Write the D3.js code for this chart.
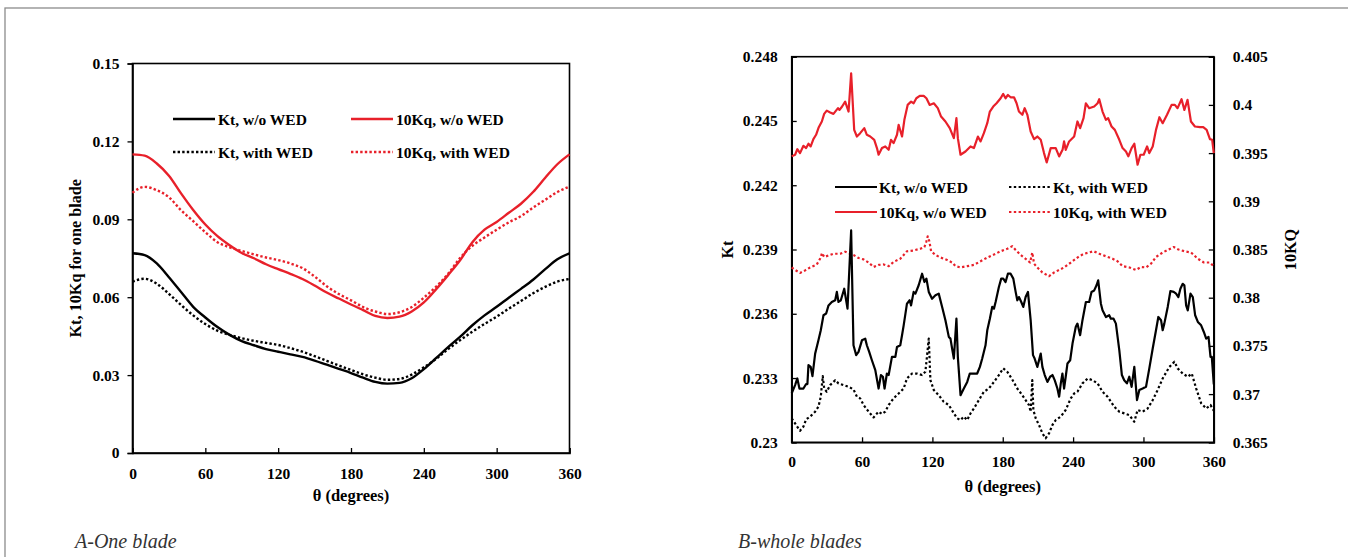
<!DOCTYPE html>
<html><head><meta charset="utf-8">
<script src="https://cdn.jsdelivr.net/npm/d3@7/dist/d3.min.js"></script>
<style>body{margin:0;background:#fff}svg{display:block}</style>
</head><body>
<svg id="c" width="1348" height="557"></svg>
<script>
// ---------- DATA: chart A (one blade) ----------
const thetaA = [0,10,20,30,40,50,60,70,80,90,100,110,120,130,140,150,160,170,180,190,200,210,220,230,240,250,260,270,280,290,300,310,320,330,340,350,360];
const ktNoWedA = [0.0769,0.0762,0.0730,0.0677,0.0620,0.0563,0.0522,0.0485,0.0455,0.0431,0.0415,0.0400,0.0390,0.0380,0.0370,0.0356,0.0340,0.0324,0.0308,0.0290,0.0274,0.0267,0.0270,0.0288,0.0323,0.0365,0.0408,0.0448,0.0492,0.0530,0.0563,0.0598,0.0632,0.0667,0.0708,0.0746,0.0769];
const ktWedA = [0.0660,0.0671,0.0652,0.0613,0.0570,0.0530,0.0497,0.0471,0.0455,0.0442,0.0432,0.0424,0.0416,0.0404,0.0390,0.0373,0.0355,0.0337,0.0320,0.0303,0.0290,0.0282,0.0285,0.0302,0.0330,0.0362,0.0400,0.0435,0.0467,0.0497,0.0525,0.0556,0.0585,0.0615,0.0640,0.0660,0.0670];
const kqNoWedA = [0.1150,0.1145,0.1115,0.1068,0.1000,0.0936,0.0880,0.0835,0.0800,0.0770,0.0750,0.0727,0.0708,0.0690,0.0670,0.0645,0.0618,0.0595,0.0572,0.0550,0.0528,0.0520,0.0525,0.0545,0.0580,0.0630,0.0685,0.0743,0.0812,0.0860,0.0890,0.0925,0.0960,0.1005,0.1060,0.1112,0.1150];
const kqWedA = [0.1002,0.1025,0.1012,0.0985,0.0935,0.0893,0.0850,0.0812,0.0792,0.0778,0.0765,0.0753,0.0743,0.0730,0.0712,0.0680,0.0642,0.0612,0.0588,0.0562,0.0545,0.0535,0.0542,0.0562,0.0598,0.0640,0.0690,0.0752,0.0798,0.0830,0.0860,0.0888,0.0912,0.0945,0.0975,0.1005,0.1026];
const xTicks = [0,60,120,180,240,300,360];
const yTicksA = [0,0.03,0.06,0.09,0.12,0.15];
const yTickLabelsA = ["0","0.03","0.06","0.09","0.12","0.15"];

// ---------- DATA: chart B (whole blades) [theta, value] ----------
const ktNoWedB = [[0,0.23228],[2.9,0.23267],[4.8,0.23298],[6.6,0.23251],[10,0.23251],[12.3,0.23272],[13.4,0.23272],[14.3,0.2336],[16.2,0.23352],[17.7,0.23309],[20,0.23414],[22.8,0.23476],[24.8,0.23523],[27.1,0.23593],[29.4,0.23601],[31.4,0.23639],[34.2,0.23655],[37.1,0.23663],[38.5,0.23702],[39.9,0.23655],[41.9,0.23663],[44.8,0.23717],[47.6,0.23624],[50.7,0.23989],[52.7,0.23453],[55,0.23407],[57,0.23422],[59.9,0.23476],[62.7,0.23484],[64.1,0.23453],[66.1,0.23422],[68.4,0.23383],[71.3,0.23337],[74.1,0.23251],[76.1,0.23314],[77.8,0.23306],[79.2,0.23251],[81.2,0.23321],[82.7,0.23314],[85.5,0.23399],[88.4,0.23399],[89.8,0.23445],[92.6,0.23453],[94.1,0.235],[95.5,0.23546],[98.3,0.23647],[100.6,0.23663],[101.8,0.23639],[104,0.23702],[105.5,0.23694],[108.3,0.23733],[111.2,0.23787],[113.2,0.23748],[114.9,0.23764],[116.9,0.23702],[119.7,0.2367],[122.6,0.23686],[125.4,0.23694],[128.3,0.23632],[131.1,0.2357],[134,0.23492],[135.4,0.23484],[136.8,0.23438],[138.3,0.23391],[140.5,0.23577],[141.7,0.23399],[144,0.2322],[146.8,0.23251],[149.7,0.23282],[151.9,0.23321],[155.4,0.23321],[158.2,0.23321],[160.5,0.23352],[162.5,0.23391],[165.3,0.23453],[166.8,0.23523],[169,0.23577],[171,0.23632],[172.5,0.23624],[173.9,0.23655],[176.7,0.23725],[178.7,0.23764],[180.4,0.23764],[182.4,0.23748],[184.4,0.23787],[186.7,0.23787],[189,0.23764],[191,0.23702],[192.4,0.23663],[193.8,0.23678],[195.8,0.23655],[197.5,0.23632],[199.5,0.23678],[201.5,0.23702],[203.8,0.2357],[205.8,0.23407],[207.2,0.23391],[209.5,0.23352],[212.4,0.23414],[213.8,0.23352],[215.8,0.23314],[218.1,0.23282],[220.4,0.23306],[222.4,0.23314],[224.3,0.2329],[226.6,0.23251],[228.1,0.23213],[229.5,0.23275],[230.9,0.23321],[232.3,0.23251],[233.7,0.23306],[235.2,0.23368],[237.5,0.23383],[239.5,0.23461],[242.3,0.23539],[243.7,0.23554],[246,0.235],[248,0.2357],[250.9,0.23655],[253.7,0.23655],[255.7,0.23702],[258,0.23709],[260,0.23733],[261.4,0.23756],[263.7,0.23647],[265.1,0.23616],[268,0.23585],[270.8,0.23593],[272.2,0.23577],[274.5,0.23577],[276.5,0.23554],[279.4,0.2343],[281.6,0.23314],[283.6,0.2329],[285.9,0.23275],[287.9,0.23306],[289.9,0.23259],[292.2,0.23352],[294.5,0.23197],[296.5,0.23244],[299.3,0.23251],[302.2,0.23259],[305,0.23345],[307.9,0.23438],[310.7,0.23523],[312.7,0.23585],[315,0.2357],[316.4,0.23523],[317.8,0.23554],[320.7,0.23632],[323,0.23706],[325.8,0.23702],[327.8,0.23694],[329.8,0.23678],[331.5,0.23717],[333.5,0.2374],[334.9,0.23733],[336.4,0.23639],[337.8,0.23616],[340.1,0.23694],[342.1,0.23678],[344.1,0.23593],[346.4,0.23562],[349.2,0.23546],[351.5,0.23515],[353.5,0.23484],[355.5,0.23492],[357.2,0.23399],[358.3,0.23399],[360,0.2327]];
const ktWedB = [[0,0.23112],[2.9,0.23088],[7.1,0.23054],[10,0.23073],[12.3,0.23107],[15.7,0.2312],[20,0.23143],[22.8,0.23166],[24.8,0.23213],[26.5,0.23309],[27.7,0.23251],[29.9,0.23236],[32.8,0.23267],[37.1,0.2329],[39.9,0.23275],[44.2,0.23267],[48.5,0.23259],[52.7,0.23247],[55.6,0.23213],[58.4,0.23205],[61.3,0.23174],[65.6,0.23143],[69.8,0.23116],[74.1,0.23143],[77,0.23132],[79.8,0.23143],[82.7,0.23174],[86.9,0.23205],[91.2,0.23228],[95.5,0.23251],[98.3,0.23298],[102.6,0.23321],[106.9,0.23321],[111.2,0.23314],[114,0.23329],[115.5,0.23407],[116.9,0.23484],[118.3,0.2329],[121.2,0.23244],[125.4,0.2322],[129.7,0.23189],[134,0.23174],[138.3,0.23135],[141.1,0.23112],[144,0.23104],[146.8,0.2312],[149.7,0.23104],[152.5,0.23135],[155.4,0.23158],[159.6,0.23197],[163.9,0.23236],[168.2,0.23251],[172.5,0.23282],[176.7,0.23314],[180.4,0.23345],[183.9,0.23329],[188.1,0.23293],[192.4,0.23251],[196.7,0.2322],[199.5,0.23197],[202.4,0.23174],[203.8,0.23143],[205.2,0.2329],[206.1,0.23151],[208.1,0.23112],[210.9,0.23081],[213.8,0.23042],[216.6,0.23019],[219.5,0.23042],[222.4,0.23081],[225.2,0.23104],[229.5,0.2312],[233.7,0.23151],[238,0.23205],[240.9,0.23228],[243.7,0.23236],[248,0.23275],[252.4,0.23298],[256.6,0.2329],[260.9,0.23275],[265.1,0.23236],[269.4,0.23213],[275.1,0.23166],[279.4,0.23143],[283.6,0.23135],[287.9,0.23127],[292.2,0.23096],[295,0.23151],[299.3,0.23143],[303.6,0.23158],[307.9,0.23197],[312.1,0.23244],[316.4,0.23298],[322.1,0.23352],[326.4,0.23376],[329.2,0.23345],[333.5,0.23321],[337.8,0.23306],[341.2,0.23321],[345,0.23251],[349.2,0.23182],[353.5,0.23158],[357.2,0.23174],[360,0.23147]];
const kqNoWedB = [[0,0.39466],[2.9,0.39483],[4.8,0.39541],[7.1,0.395],[10,0.39576],[12.3,0.39552],[14.3,0.39597],[16.2,0.39569],[18.5,0.39645],[20.8,0.3969],[23.1,0.39769],[25.7,0.39828],[27.7,0.39907],[29.9,0.39941],[32.8,0.39921],[35.6,0.39907],[39.5,0.39966],[40.8,0.39948],[43,0.39983],[45.6,0.40034],[48.5,0.39931],[50.7,0.40328],[53.3,0.39741],[55.6,0.39672],[58.4,0.39707],[61.9,0.39759],[64.1,0.3969],[67,0.39672],[70.4,0.39638],[72.7,0.39552],[74.1,0.39483],[77,0.39552],[79.8,0.39569],[82.7,0.39534],[84.7,0.39638],[86.9,0.39603],[89.8,0.3969],[91.2,0.39793],[94.1,0.39672],[96.1,0.39845],[98.9,0.4],[101.8,0.40034],[104,0.40017],[106.3,0.40069],[109.2,0.40093],[112.6,0.40093],[114.9,0.40069],[117.7,0.4],[121.2,0.40017],[124.6,0.39966],[127.4,0.39879],[131.1,0.39828],[134.8,0.39759],[138.3,0.39655],[140.5,0.39862],[141.7,0.39655],[144,0.39483],[148.2,0.39517],[152.5,0.39569],[155.4,0.39552],[158.8,0.39672],[161.1,0.39621],[163.9,0.39707],[166.8,0.3981],[169,0.39931],[171.9,0.39983],[174.7,0.40017],[178.2,0.40069],[180.4,0.40114],[182.4,0.40069],[184.4,0.40103],[186.7,0.40079],[189.6,0.40079],[191.8,0.40017],[193.8,0.39931],[196.7,0.39897],[198.7,0.39966],[201,0.39897],[203.8,0.39724],[206.7,0.39645],[209.5,0.39672],[212.4,0.39638],[215.2,0.395],[217.5,0.39403],[220.9,0.39552],[225.2,0.39552],[228.1,0.39466],[231,0.39534],[232.3,0.39621],[233.7,0.39534],[236.6,0.39621],[240.9,0.39672],[243.7,0.39828],[246,0.39759],[248.9,0.39862],[250.9,0.40017],[253.7,0.39966],[258,0.39983],[260.9,0.40017],[262.3,0.40059],[265.1,0.39931],[268,0.39845],[269.9,0.39862],[272.8,0.39776],[275.6,0.39741],[279.4,0.39638],[282.2,0.39552],[285.1,0.39517],[287.1,0.39466],[289.9,0.39552],[292.2,0.39597],[295,0.39379],[297.4,0.39483],[300.2,0.39483],[303.1,0.39569],[305,0.395],[307.9,0.39569],[310.7,0.39741],[313.6,0.39872],[316.4,0.3981],[320.1,0.39897],[324,0.4],[326.8,0.4],[329.1,0.39966],[332.5,0.40059],[334.9,0.39948],[337.6,0.40052],[340.5,0.39828],[343.9,0.39776],[348.2,0.39769],[351,0.39769],[353.9,0.39741],[356.7,0.39645],[358.6,0.39638],[360,0.395]];
const kqWedB = [[0,0.38314],[2.9,0.38288],[7.1,0.38257],[11.4,0.38283],[15.7,0.38314],[21.4,0.38345],[24.2,0.38404],[25.9,0.38464],[27.7,0.38422],[31.4,0.38438],[35.6,0.38456],[41.3,0.38456],[45.6,0.38477],[49.9,0.38456],[52.7,0.38443],[57,0.38412],[61.3,0.38397],[65.6,0.38365],[69.8,0.38319],[74.1,0.3834],[78.4,0.38345],[82.7,0.38327],[86.9,0.38371],[92.6,0.38404],[98.3,0.38482],[104,0.3849],[109.7,0.38508],[113.2,0.38526],[114.9,0.38585],[116,0.38637],[117.4,0.38585],[118.9,0.38482],[122.6,0.38443],[126.9,0.38417],[132.6,0.38391],[136.8,0.38365],[139.7,0.38327],[144,0.38314],[149.7,0.38327],[155.4,0.3834],[161.1,0.38378],[166.8,0.38417],[172.5,0.38448],[178.2,0.38482],[183.9,0.38508],[188.1,0.38534],[191,0.38495],[195.3,0.38443],[199.5,0.38404],[203.3,0.38365],[205.2,0.38469],[206.7,0.38353],[209.5,0.38314],[213.8,0.38262],[219.5,0.38223],[223.8,0.38262],[228.1,0.38288],[232.3,0.38314],[238,0.38365],[242.3,0.38404],[245.2,0.3843],[249.4,0.38456],[253.7,0.38469],[257.4,0.38482],[262.3,0.38456],[268,0.3843],[273.7,0.38404],[277.9,0.38378],[282.2,0.38327],[287.9,0.38314],[293.6,0.38288],[297.9,0.38319],[302.2,0.38314],[306.5,0.38353],[310.7,0.38422],[316.4,0.38469],[320.7,0.38495],[325.8,0.38526],[329.8,0.385],[334.9,0.38482],[340.6,0.38469],[346.4,0.38404],[351.5,0.38365],[356.3,0.38365],[360,0.38327]];
const yTicksBL = [0.23,0.233,0.236,0.239,0.242,0.245,0.248];
const yTickLabelsBL = ["0.23","0.233","0.236","0.239","0.242","0.245","0.248"];
const yTicksBR = [0.365,0.37,0.375,0.38,0.385,0.39,0.395,0.4,0.405];
const yTickLabelsBR = ["0.365","0.37","0.375","0.38","0.385","0.39","0.395","0.4","0.405"];

// ---------- DRAWING ----------
const FONT = "'Liberation Serif','Times New Roman',serif";
const RED = "#e8202a";
const svg = d3.select('#c');

svg.append('rect').attr('x',5).attr('y',8).attr('width',1500).attr('height',700)
  .attr('fill','none').attr('stroke','#8c8c8c').attr('stroke-width',1.3);

function styleAxis(g, fs){
  g.select('.domain').attr('stroke','#000').attr('stroke-width',1.6);
  g.selectAll('.tick line').attr('stroke','#000').attr('stroke-width',1.3);
  g.selectAll('.tick text').attr('font-family',FONT).attr('font-weight','bold')
    .attr('font-size',fs).attr('fill','#000');
}

// ===== Chart A =====
const A = {l:132.5, r:569.5, t:63.5, b:453};
const xA = d3.scaleLinear().domain([0,360]).range([A.l,A.r]);
const yA = d3.scaleLinear().domain([0,0.15]).range([A.b,A.t]);
const gA = svg.append('g');
gA.append('rect').attr('x',A.l).attr('y',A.t).attr('width',A.r-A.l).attr('height',A.b-A.t)
  .attr('fill','none').attr('stroke','#000').attr('stroke-width',1.6);
gA.append('g').attr('transform',`translate(0,${A.b})`)
  .call(d3.axisBottom(xA).tickValues(xTicks).tickSize(-5).tickPadding(15).tickFormat(d3.format('d')))
  .call(g=>styleAxis(g,15.5));
gA.append('g').attr('transform',`translate(${A.l},0)`)
  .call(d3.axisLeft(yA).tickValues(yTicksA).tickSize(5).tickPadding(8).tickFormat((d,i)=>yTickLabelsA[i]))
  .call(g=>styleAxis(g,15.5));

const lineA = vals => d3.line().curve(d3.curveMonotoneX).x((d,i)=>xA(thetaA[i])).y(d=>yA(d))(vals);
const seriesA = [
  {v:kqWedA, c:RED, dash:'2.4,2.2'},
  {v:ktWedA, c:'#000', dash:'2.4,2.2'},
  {v:kqNoWedA, c:RED, dash:null},
  {v:ktNoWedA, c:'#000', dash:null}
];
seriesA.forEach(s=>{
  gA.append('path').attr('d',lineA(s.v)).attr('fill','none').attr('stroke',s.c)
    .attr('stroke-width',2.4).attr('stroke-dasharray',s.dash);
});
gA.append('text').attr('x',(A.l+A.r)/2).attr('y',501).attr('text-anchor','middle')
  .attr('font-family',FONT).attr('font-weight','bold').attr('font-size',16.5).text('θ (degrees)');
gA.append('text').attr('transform',`translate(81,${(A.t+A.b)/2}) rotate(-90)`).attr('text-anchor','middle')
  .attr('font-family',FONT).attr('font-weight','bold').attr('font-size',16.2).text('Kt, 10Kq for one blade');

const legA = [
  {x:173, y:119, c:'#000', dash:null, t:'Kt, w/o WED'},
  {x:351, y:119, c:RED, dash:null, t:'10Kq, w/o WED'},
  {x:173, y:152, c:'#000', dash:'2.4,2.2', t:'Kt, with WED'},
  {x:351, y:152, c:RED, dash:'2.4,2.2', t:'10Kq, with WED'}
];
legA.forEach(d=>{
  gA.append('line').attr('x1',d.x).attr('x2',d.x+42).attr('y1',d.y).attr('y2',d.y)
    .attr('stroke',d.c).attr('stroke-width',2.4).attr('stroke-dasharray',d.dash);
  gA.append('text').attr('x',d.x+45).attr('y',d.y+5.5).attr('font-family',FONT)
    .attr('font-weight','bold').attr('font-size',15.5).text(d.t);
});
svg.append('text').attr('x',75).attr('y',548).attr('font-family',FONT).attr('font-style','italic')
  .attr('font-size',20).attr('fill','#333').text('A-One blade');

// ===== Chart B =====
const B = {l:791.7, r:1213.8, t:56.7, b:442.3};
const xB = d3.scaleLinear().domain([0,360]).range([B.l,B.r]);
const yBL = d3.scaleLinear().domain([0.23,0.248]).range([B.b,B.t]);
const yBR = d3.scaleLinear().domain([0.365,0.405]).range([B.b,B.t]);
const gB = svg.append('g');
gB.append('rect').attr('x',B.l).attr('y',B.t).attr('width',B.r-B.l).attr('height',B.b-B.t)
  .attr('fill','none').attr('stroke','#000').attr('stroke-width',1.6);
gB.append('g').attr('transform',`translate(0,${B.b})`)
  .call(d3.axisBottom(xB).tickValues(xTicks).tickSize(-5).tickPadding(14).tickFormat(d3.format('d')))
  .call(g=>styleAxis(g,15.5));
gB.append('g').attr('transform',`translate(${B.l},0)`)
  .call(d3.axisLeft(yBL).tickValues(yTicksBL).tickSize(-5).tickPadding(14).tickFormat((d,i)=>yTickLabelsBL[i]))
  .call(g=>styleAxis(g,15.5));
gB.append('g').attr('transform',`translate(${B.r},0)`)
  .call(d3.axisRight(yBR).tickValues(yTicksBR).tickSize(-5).tickPadding(19).tickFormat((d,i)=>yTickLabelsBR[i]))
  .call(g=>styleAxis(g,15.5));

const lineBL = d3.line().x(d=>xB(d[0])).y(d=>yBL(d[1]));
const lineBR = d3.line().x(d=>xB(d[0])).y(d=>yBR(d[1]));
const seriesB = [
  {d:kqWedB, f:lineBR, c:RED, dash:'2.4,2.4'},
  {d:ktWedB, f:lineBL, c:'#000', dash:'2.4,2.4'},
  {d:kqNoWedB, f:lineBR, c:RED, dash:null},
  {d:ktNoWedB, f:lineBL, c:'#000', dash:null}
];
seriesB.forEach(s=>{
  gB.append('path').attr('d',s.f(s.d)).attr('fill','none').attr('stroke',s.c)
    .attr('stroke-width',2.2).attr('stroke-linejoin','round').attr('stroke-dasharray',s.dash);
});
gB.append('text').attr('x',(B.l+B.r)/2).attr('y',492).attr('text-anchor','middle')
  .attr('font-family',FONT).attr('font-weight','bold').attr('font-size',16.5).text('θ (degrees)');
gB.append('text').attr('transform',`translate(733,${(B.t+B.b)/2}) rotate(-90)`).attr('text-anchor','middle')
  .attr('font-family',FONT).attr('font-weight','bold').attr('font-size',16.2).text('Kt');
gB.append('text').attr('transform',`translate(1296,${(B.t+B.b)/2}) rotate(-90)`).attr('text-anchor','middle')
  .attr('font-family',FONT).attr('font-weight','bold').attr('font-size',16.2).text('10KQ');

const legB = [
  {x:835, y:187, c:'#000', dash:null, t:'Kt, w/o WED'},
  {x:1009, y:187, c:'#000', dash:'2.4,2.4', t:'Kt, with WED'},
  {x:835, y:212, c:RED, dash:null, t:'10Kq, w/o WED'},
  {x:1009, y:212, c:RED, dash:'2.4,2.4', t:'10Kq, with WED'}
];
legB.forEach(d=>{
  gB.append('line').attr('x1',d.x).attr('x2',d.x+42).attr('y1',d.y).attr('y2',d.y)
    .attr('stroke',d.c).attr('stroke-width',2.2).attr('stroke-dasharray',d.dash);
  gB.append('text').attr('x',d.x+44).attr('y',d.y+5.5).attr('font-family',FONT)
    .attr('font-weight','bold').attr('font-size',15.5).text(d.t);
});
svg.append('text').attr('x',738).attr('y',548).attr('font-family',FONT).attr('font-style','italic')
  .attr('font-size',20).attr('fill','#333').text('B-whole blades');
</script>
</body></html>
